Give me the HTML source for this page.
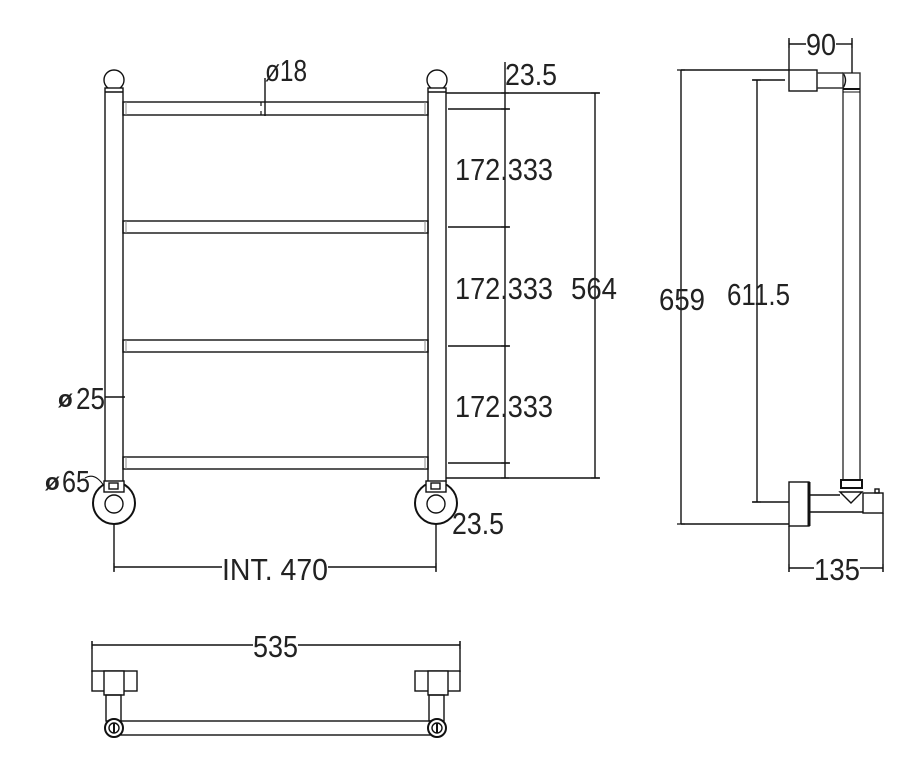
<!DOCTYPE html>
<html><head><meta charset="utf-8"><style>
html,body{margin:0;padding:0;background:#fff;}
svg{display:block}
text{font-family:"Liberation Sans",sans-serif;font-size:31px;fill:#222;}
</style></head><body>
<svg width="904" height="777" viewBox="0 0 904 777" xmlns="http://www.w3.org/2000/svg">
<g stroke="#111" stroke-width="1.4" fill="none">
<circle cx="114" cy="80" r="10" fill="#fff"/>
<circle cx="437" cy="80" r="10" fill="#fff"/>
<rect x="105" y="88" width="18" height="394" fill="#fff"/>
<rect x="428" y="88" width="18" height="394" fill="#fff"/>
<line x1="105" y1="92" x2="123" y2="92"/><line x1="428" y1="92" x2="446" y2="92"/>
<rect x="123" y="102" width="305" height="13"/>
<rect x="123" y="221" width="305" height="12"/>
<rect x="123" y="340" width="305" height="12"/>
<rect x="123" y="457" width="305" height="12"/>
<g stroke="#888" stroke-width="1">
<line x1="126" y1="102" x2="126" y2="115"/><line x1="425" y1="102" x2="425" y2="115"/>
<line x1="126" y1="221" x2="126" y2="233"/><line x1="425" y1="221" x2="425" y2="233"/>
<line x1="126" y1="340" x2="126" y2="352"/><line x1="425" y1="340" x2="425" y2="352"/>
<line x1="126" y1="457" x2="126" y2="469"/><line x1="425" y1="457" x2="425" y2="469"/>
</g>
<circle cx="114" cy="503" r="21" stroke-width="2"/>
<circle cx="114" cy="504" r="9"/>
<rect x="104" y="481" width="20" height="11" fill="#fff"/>
<rect x="109" y="483" width="9" height="6"/>
<circle cx="436" cy="503" r="21" stroke-width="2"/>
<circle cx="436" cy="504" r="9"/>
<rect x="426" y="481" width="20" height="11" fill="#fff"/>
<rect x="431" y="483" width="9" height="6"/>
<path d="M85 478 Q95 472 104 486" stroke-width="1"/>
<line x1="446" y1="93" x2="600" y2="93"/>
<line x1="448" y1="109" x2="510" y2="109"/>
<line x1="448" y1="227" x2="510" y2="227"/>
<line x1="448" y1="346" x2="510" y2="346"/>
<line x1="448" y1="463" x2="510" y2="463"/>
<line x1="446" y1="478" x2="600" y2="478"/>
<line x1="505" y1="62" x2="505" y2="478"/>
<line x1="595" y1="93" x2="595" y2="478"/>
<line x1="265" y1="78" x2="265" y2="116"/>
<line x1="105" y1="397" x2="125" y2="397"/>
<line x1="114" y1="524" x2="114" y2="572"/>
<line x1="436" y1="524" x2="436" y2="572"/>
<line x1="114" y1="567" x2="222" y2="567"/>
<line x1="328" y1="567" x2="436" y2="567"/>
<line x1="681" y1="70" x2="789" y2="70"/>
<line x1="681" y1="70" x2="681" y2="524"/>
<line x1="681" y1="524" x2="789" y2="524"/>
<line x1="752" y1="80" x2="785" y2="80"/>
<line x1="757" y1="80" x2="757" y2="502"/>
<line x1="752" y1="502" x2="789" y2="502"/>
<rect x="789" y="70" width="28" height="21" fill="#fff"/>
<path d="M817 73 H843 M817 88 H843" stroke="#333"/>
<path d="M843 73 Q848 80 843 88" />
<rect x="843" y="73" width="17" height="407" stroke="#333"/>
<line x1="843" y1="89" x2="860" y2="89" stroke-width="2"/>
<line x1="843" y1="92" x2="860" y2="92" stroke-width="1"/>
<rect x="841" y="480" width="21" height="8" stroke-width="2" fill="#fff"/>
<path d="M840 492 L851 503 L862 492 Z" fill="#fff"/>
<rect x="789" y="482" width="20" height="44" fill="#fff"/>
<line x1="809" y1="482" x2="809" y2="526" stroke-width="3"/>
<path d="M810 495 H840 M810 512 H863"/>
<rect x="863" y="493" width="20" height="20"/>
<rect x="875" y="489" width="4" height="4"/>
<line x1="789" y1="526" x2="789" y2="572"/>
<line x1="883" y1="513" x2="883" y2="572"/>
<line x1="789" y1="568" x2="814" y2="568"/>
<line x1="860" y1="568" x2="883" y2="568"/>
<line x1="789" y1="38" x2="789" y2="70"/>
<line x1="852" y1="38" x2="852" y2="73"/>
<line x1="789" y1="44" x2="806" y2="44"/>
<line x1="836" y1="44" x2="852" y2="44"/>
<line x1="92" y1="641" x2="92" y2="672"/>
<line x1="460" y1="641" x2="460" y2="672"/>
<line x1="92" y1="645" x2="253" y2="645"/>
<line x1="298" y1="645" x2="460" y2="645"/>
<rect x="92" y="671" width="45" height="20"/>
<rect x="104" y="671" width="20" height="24" fill="#fff"/>
<rect x="106" y="695" width="15" height="26"/>
<rect x="415" y="671" width="45" height="20"/>
<rect x="428" y="671" width="20" height="24" fill="#fff"/>
<rect x="429" y="695" width="15" height="26"/>
<rect x="121" y="721" width="311" height="14"/>
<circle cx="114" cy="728" r="9" stroke-width="2" fill="#fff"/>
<circle cx="114" cy="728" r="5"/><line x1="114" y1="723" x2="114" y2="733" stroke-width="2"/>
<circle cx="437" cy="728" r="9" stroke-width="2" fill="#fff"/>
<circle cx="437" cy="728" r="5"/><line x1="437" y1="723" x2="437" y2="733" stroke-width="2"/>
</g>
<g stroke="#111" stroke-width="1.2">
<path d="M501 93h8M501 109h8M501 227h8M501 346h8M501 463h8M501 478h8M591 93h8M591 478h8M677 70h8M677 524h8M753 80h8M753 502h8M261 102v4M261 115v-4M114 563v8M436 563v8M789 564v8M883 564v8M789 40v8M852 40v8M92 641v8M460 641v8"/>
</g>
<text x="265" y="81" textLength="42" lengthAdjust="spacingAndGlyphs">ø18</text>
<text x="505" y="85" textLength="52" lengthAdjust="spacingAndGlyphs">23.5</text>
<text x="455" y="180" textLength="98" lengthAdjust="spacingAndGlyphs">172.333</text>
<text x="455" y="299" textLength="98" lengthAdjust="spacingAndGlyphs">172.333</text>
<text x="571" y="299" textLength="46" lengthAdjust="spacingAndGlyphs">564</text>
<text x="455" y="417" textLength="98" lengthAdjust="spacingAndGlyphs">172.333</text>
<text x="452" y="534" textLength="52" lengthAdjust="spacingAndGlyphs">23.5</text>
<text x="76" y="409" textLength="29" lengthAdjust="spacingAndGlyphs">25</text>
<text x="58" y="407" style="font-weight:bold;font-size:24px">ø</text>
<text x="62" y="492" textLength="28" lengthAdjust="spacingAndGlyphs">65</text>
<text x="45" y="490" style="font-weight:bold;font-size:24px">ø</text>
<text x="222" y="580" textLength="106" lengthAdjust="spacingAndGlyphs">INT. 470</text>
<text x="659" y="310" textLength="46" lengthAdjust="spacingAndGlyphs">659</text>
<text x="727" y="305" textLength="63" lengthAdjust="spacingAndGlyphs">611.5</text>
<text x="806" y="55" textLength="30" lengthAdjust="spacingAndGlyphs">90</text>
<text x="814" y="580" textLength="46" lengthAdjust="spacingAndGlyphs">135</text>
<text x="253" y="657" textLength="45" lengthAdjust="spacingAndGlyphs">535</text>
</svg>
</body></html>
